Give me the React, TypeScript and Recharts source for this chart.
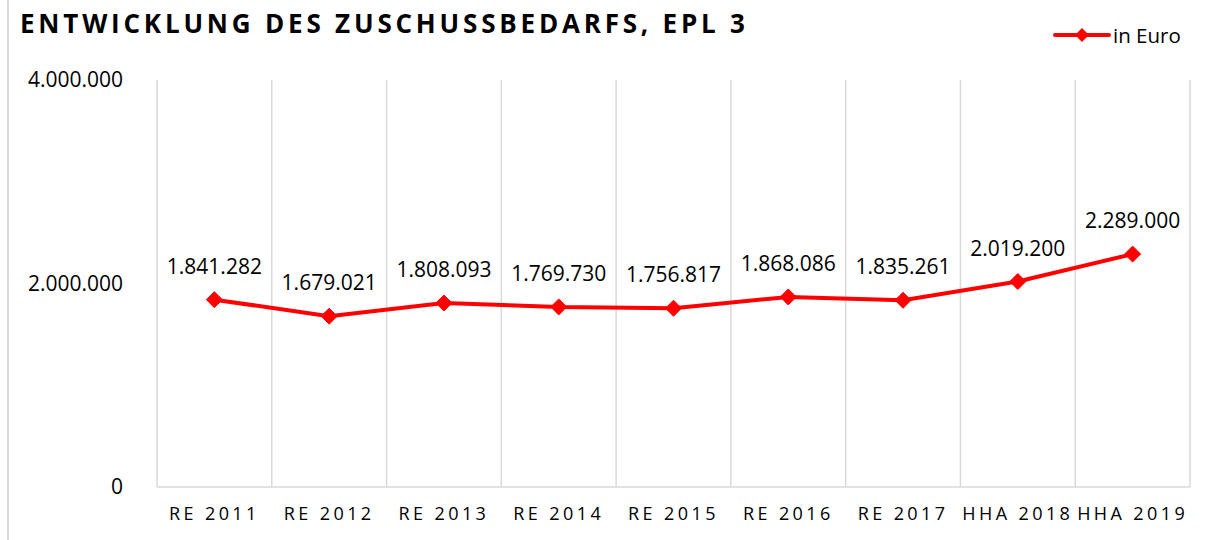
import React from 'react';
import { LineChart, Line, XAxis, YAxis, CartesianGrid, LabelList } from 'recharts';

const categories = ['RE 2011', 'RE 2012', 'RE 2013', 'RE 2014', 'RE 2015', 'RE 2016', 'RE 2017', 'HHA 2018', 'HHA 2019'];
const zuschuss = [1841282, 1679021, 1808093, 1769730, 1756817, 1868086, 1835261, 2019200, 2289000];
const yTicks = [0, 2000000, 4000000];

const RED = '#ff0000';
const GRID = '#d9d9d9';
const FONT = '"Open Sans", "Liberation Sans", sans-serif';

// each point sits in the middle of its band, band edges are the grid lines
const data = categories.map((name, i) => ({ name, pos: i + 0.5, value: zuschuss[i] }));
const bandEdges = categories.map((_, i) => i).concat([categories.length]);
const bandCenters = categories.map((_, i) => i + 0.5);

const fmt = (v: number) => String(Math.round(v)).replace(/\B(?=(\d{3})+(?!\d))/g, '.');

const Diamond = (props: any) => {
    const { cx, cy } = props;
    if (cx == null || cy == null) return null;
    const r = 8;
    return <polygon points={`${cx},${cy - r} ${cx + r},${cy} ${cx},${cy + r} ${cx - r},${cy}`} fill={RED} stroke={RED} />;
};

const NoTick = () => <g />;

export default function App() {
    return (
        <div style={{ position: 'absolute', left: 0, top: 0, width: 1220, height: 540, background: '#fff' }}>
            <div style={{ position: 'absolute', left: 7, top: 0, width: 1.5, height: 540, background: GRID }} />
            <div
                style={{
                    position: 'absolute',
                    left: 20,
                    top: 5,
                    fontFamily: FONT,
                    fontWeight: 700,
                    fontSize: 26,
                    letterSpacing: 3.8,
                    color: '#000',
                    whiteSpace: 'nowrap',
                }}
            >
                ENTWICKLUNG DES ZUSCHUSSBEDARFS, EPL 3
            </div>
            <div
                style={{
                    position: 'absolute',
                    left: 1053,
                    top: 21,
                    display: 'flex',
                    alignItems: 'center',
                    fontFamily: FONT,
                    fontSize: 20.5,
                    color: '#000',
                }}
            >
                <svg width={58} height={16}>
                    <line x1={2} y1={8} x2={56} y2={8} stroke={RED} strokeWidth={4} strokeLinecap="round" />
                    <polygon points="29,1 36,8 29,15 22,8" fill={RED} />
                </svg>
                <span style={{ marginLeft: 2 }}>in Euro</span>
            </div>
            <LineChart width={1220} height={540} data={data} margin={{ top: 80, right: 30, left: 7, bottom: 13 }}>
                <CartesianGrid xAxisId="grid" horizontal={false} stroke={GRID} strokeWidth={1.5} />
                <XAxis
                    xAxisId="grid"
                    dataKey="pos"
                    type="number"
                    domain={[0, categories.length]}
                    ticks={bandEdges}
                    interval={0}
                    tick={<NoTick />}
                    tickLine={false}
                    axisLine={{ stroke: GRID, strokeWidth: 1.5 }}
                    height={1}
                />
                <XAxis
                    xAxisId="lbl"
                    dataKey="pos"
                    type="number"
                    domain={[0, categories.length]}
                    ticks={bandCenters}
                    interval={0}
                    tickFormatter={(v: number) => categories[Math.floor(v)]}
                    tickLine={false}
                    axisLine={false}
                    height={39}
                    tick={{ fill: '#000', fontSize: 18, fontFamily: FONT, letterSpacing: 3.4 }}
                    tickMargin={13}
                />
                <YAxis
                    domain={[0, 4000000]}
                    ticks={yTicks}
                    tickFormatter={fmt}
                    axisLine={false}
                    tickLine={false}
                    width={150}
                    tickMargin={28}
                    tick={{ fill: '#000', fontSize: 21, fontFamily: FONT }}
                />
                <Line
                    xAxisId="grid"
                    dataKey="value"
                    name="in Euro"
                    stroke={RED}
                    strokeWidth={4}
                    dot={<Diamond />}
                    activeDot={false}
                    isAnimationActive={false}
                >
                    <LabelList dataKey="value" position="top" offset={26} formatter={(v: any) => fmt(Number(v))} fill="#000" fontSize={21} fontFamily={FONT} />
                </Line>
            </LineChart>
        </div>
    );
}
